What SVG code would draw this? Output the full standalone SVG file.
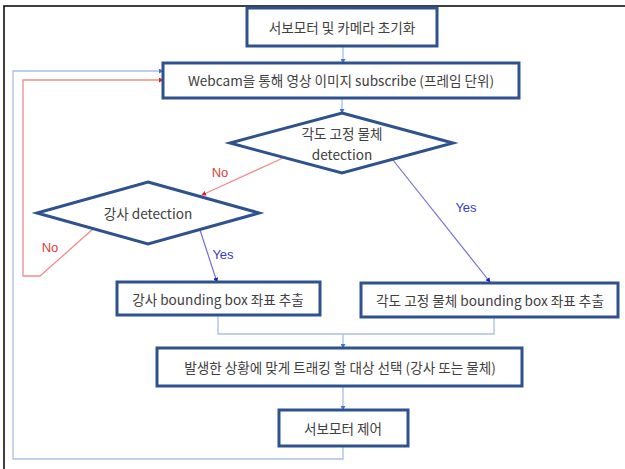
<svg xmlns="http://www.w3.org/2000/svg" width="625" height="469" viewBox="0 0 625 469">
<style>
.box{fill:#fff;stroke:#2F528F;stroke-width:3}
.t{font-family:"Noto Sans CJK KR","Liberation Sans",sans-serif;font-size:13.6px;fill:#404040;text-anchor:middle;dominant-baseline:central}
.c{fill:none;stroke:#A9BEE6;stroke-width:1.3}
.r{fill:none;stroke:#F28C8C;stroke-width:1.3}
.y{fill:none;stroke:#7070E0;stroke-width:1.2}
.lr{font-family:"Liberation Sans","Noto Sans",sans-serif;font-size:13px;fill:#E03C3C;text-anchor:middle;dominant-baseline:central}
.lb{font-family:"Liberation Sans","Noto Sans",sans-serif;font-size:13px;fill:#3B3BD0;text-anchor:middle;dominant-baseline:central}
</style>
<defs>
<marker id="ab" viewBox="0 0 6 6" refX="5" refY="3" markerWidth="5" markerHeight="5" orient="auto" markerUnits="userSpaceOnUse"><path d="M0,0 L6,3 L0,6 z" fill="#4472C4"/></marker>
<marker id="ar" viewBox="0 0 6 6" refX="5" refY="3" markerWidth="5" markerHeight="5" orient="auto" markerUnits="userSpaceOnUse"><path d="M0,0 L6,3 L0,6 z" fill="#E02020"/></marker>
<marker id="ap" viewBox="0 0 6 6" refX="5" refY="3" markerWidth="5" markerHeight="5" orient="auto" markerUnits="userSpaceOnUse"><path d="M0,0 L6,3 L0,6 z" fill="#2020C0"/></marker>
</defs>
<rect width="625" height="469" fill="#fff"/>
<path d="M4,469 V6 H625" fill="none" stroke="#000" stroke-width="1.5"/>
<g id="connectors">
<path class="c" d="M343,46 V63" marker-end="url(#ab)"/>
<path class="c" d="M342,98 V113" marker-end="url(#ab)"/>
<path class="r" d="M283,158 L202,195" marker-end="url(#ar)"/>
<text class="lr" x="220" y="172">No</text>
<path class="y" d="M393,160 L490,282" marker-end="url(#ap)"/>
<text class="lb" x="466" y="207">Yes</text>
<path class="y" d="M200,230 L217,282" marker-end="url(#ap)"/>
<text class="lb" x="223" y="254">Yes</text>
<path class="r" d="M93,229 L40,276 H23 V80 H163" marker-end="url(#ar)"/>
<text class="lr" x="50" y="247">No</text>
<path class="c" d="M218,315 V334 H494 V317"/>
<path class="c" d="M343,334 V348" marker-end="url(#ab)"/>
<path class="c" d="M343,386 V410" marker-end="url(#ab)"/>
<path class="c" d="M343,446 V459 H13 V71 H163" marker-end="url(#ab)"/>
</g>
<g id="init"><rect class="box" x="247" y="8" width="190" height="38"/><text class="t" x="342" y="27">서보모터 및 카메라 초기화</text></g>
<g id="webcam"><rect class="box" x="163" y="63" width="356" height="35"/><text class="t" x="341" y="80">Webcam을 통해 영상 이미지 subscribe (프레임 단위)</text></g>
<g id="d1"><polygon class="box" points="342,113 453,143 342,173 230,143"/><text class="t" x="342" y="133">각도 고정 물체</text><text class="t" x="342" y="154">detection</text></g>
<g id="d2"><polygon class="box" points="148,182 259,213 148,244 37,213"/><text class="t" x="148" y="213">강사 detection</text></g>
<g id="bb1"><rect class="box" x="117" y="282" width="203" height="33"/><text class="t" x="218" y="299">강사 bounding box 좌표 추출</text></g>
<g id="bb2"><rect class="box" x="361" y="283" width="257" height="34"/><text class="t" x="490" y="300">각도 고정 물체 bounding box 좌표 추출</text></g>
<g id="select"><rect class="box" x="157" y="348" width="365" height="38"/><text class="t" x="340" y="367">발생한 상황에 맞게 트래킹 할 대상 선택 (강사 또는 물체)</text></g>
<g id="servo"><rect class="box" x="279" y="410" width="129" height="36"/><text class="t" x="343" y="428">서보모터 제어</text></g>
</svg>
